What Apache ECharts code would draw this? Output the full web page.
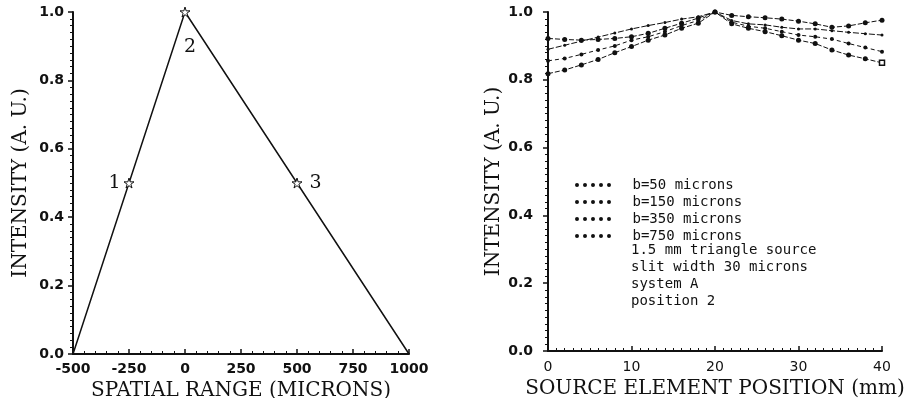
<!DOCTYPE html>
<html>
<head>
<meta charset="utf-8">
<script src="https://cdn.jsdelivr.net/npm/echarts@6/dist/echarts.min.js"></script>
<style>html,body{margin:0;padding:0;background:#fff}#c{width:915px;height:398px}</style>
</head>
<body>
<div id="c"></div>
<script>
// ---- Left panel data ----
const leftX = [-500, -250, 0, 500, 1000];
const leftY = [0.0, 0.5, 1.0, 0.5, 0.0];
const leftPointLabels = ['', '1', '2', '3', ''];
const leftStarShown = [false, true, true, true, false];

// ---- Right panel data ----
const rightX = [0, 2, 4, 6, 8, 10, 12, 14, 16, 18, 20, 22, 24, 26, 28, 30, 32, 34, 36, 38, 40];
const b50  = [0.922, 0.919, 0.917, 0.919, 0.922, 0.927, 0.937, 0.952, 0.967, 0.982, 1.000, 0.990, 0.986, 0.983, 0.979, 0.973, 0.965, 0.955, 0.959, 0.968, 0.976];
const b150 = [0.818, 0.829, 0.844, 0.860, 0.880, 0.898, 0.917, 0.932, 0.952, 0.967, 1.000, 0.965, 0.952, 0.942, 0.930, 0.917, 0.907, 0.888, 0.873, 0.862, 0.850];
const b350 = [0.856, 0.863, 0.875, 0.888, 0.900, 0.917, 0.927, 0.942, 0.960, 0.975, 1.000, 0.970, 0.958, 0.952, 0.942, 0.932, 0.927, 0.920, 0.907, 0.895, 0.883];
const b750 = [0.890, 0.902, 0.914, 0.926, 0.938, 0.950, 0.960, 0.969, 0.979, 0.986, 1.000, 0.975, 0.965, 0.962, 0.955, 0.950, 0.950, 0.945, 0.940, 0.936, 0.932];
const seriesNames = ['b=50 microns', 'b=150 microns', 'b=350 microns', 'b=750 microns'];
const noteLines = ['1.5 mm triangle source', 'slit width 30 microns', 'system A', 'position 2'];

const STAR = 'path://M50,0 L61,35 L98,35 L68,57 L79,91 L50,70 L21,91 L32,57 L2,35 L39,35 Z';
const DOTS = 'path://M0,2a2,2 0 1,0 4,0a2,2 0 1,0 -4,0M8,2a2,2 0 1,0 4,0a2,2 0 1,0 -4,0M16,2a2,2 0 1,0 4,0a2,2 0 1,0 -4,0M24,2a2,2 0 1,0 4,0a2,2 0 1,0 -4,0M32,2a2,2 0 1,0 4,0a2,2 0 1,0 -4,0';

const tickFont = {fontFamily: 'DejaVu Sans', fontWeight: 'bold', fontSize: 14, color: '#111'};
const titleFont = {fontFamily: 'DejaVu Serif', fontSize: 20, color: '#111'};

function yAxisCfg(gridIndex, labelMargin, nameGap) {
  return {
    type: 'value', gridIndex, min: 0, max: 1, interval: 0.2,
    axisLine: {show: true, onZero: false, lineStyle: {color: '#111', width: 2}},
    axisTick: {show: true, inside: false, length: 5, lineStyle: {color: '#111', width: 1.5}},
    minorTick: {show: true, splitNumber: 10, length: 3, lineStyle: {color: '#111', width: 1}},
    splitLine: {show: false},
    axisLabel: Object.assign({formatter: v => v.toFixed(1), margin: labelMargin}, tickFont),
    name: 'INTENSITY (A. U.)', nameLocation: 'middle', nameGap: nameGap,
    nameTextStyle: titleFont
  };
}

const chart = echarts.init(document.getElementById('c'));
const rightData = [b50, b150, b350, b750];
const rightStyles = [
  {size: 5, symbol: 'circle', dash: [5, 2]},
  {size: 5, symbol: 'circle', dash: [5, 2]},
  {size: 4, symbol: 'circle', dash: [4, 3]},
  {size: 3, symbol: 'circle', dash: [6, 2]}
];

const series = [{
  type: 'line', xAxisIndex: 0, yAxisIndex: 0,
  data: leftX.map((x, i) => ({
    value: [x, leftY[i]],
    symbol: leftStarShown[i] ? STAR : 'none',
    label: {show: leftPointLabels[i] !== '',
            position: i === 1 ? 'left' : (i === 2 ? 'bottom' : 'right'),
            distance: i === 2 ? 20 : (i === 3 ? 7 : 3),
            offset: i === 2 ? [5, 0] : [0, 0],
            formatter: leftPointLabels[i]}
  })),
  symbolSize: 10,
  lineStyle: {color: '#111', width: 1.5},
  itemStyle: {color: '#fff', borderColor: '#111', borderWidth: 1},
  label: {fontFamily: 'DejaVu Serif', fontSize: 19, color: '#111'},
  z: 3
}];
rightData.forEach((arr, k) => {
  const st = rightStyles[k];
  series.push({
    name: seriesNames[k], type: 'line', xAxisIndex: 1, yAxisIndex: 1,
    data: rightX.map((x, i) => {
      const item = {value: [x, arr[i]]};
      if (k === 1 && i === rightX.length - 1) {
        item.symbol = 'rect';
        item.itemStyle = {color: '#fff', borderColor: '#111', borderWidth: 1.5};
      }
      return item;
    }),
    symbol: st.symbol, symbolSize: st.size,
    lineStyle: {color: '#111', width: 1, type: st.dash},
    itemStyle: {color: '#111'}
  });
});

chart.setOption({
  animation: false,
  backgroundColor: '#fff',
  grid: [
    {left: 73, top: 12, width: 336, height: 342, containLabel: false, outerBoundsMode: 'none'},
    {left: 548, top: 12, width: 334, height: 339, containLabel: false, outerBoundsMode: 'none'}
  ],
  xAxis: [
    {type: 'value', gridIndex: 0, min: -500, max: 1000, interval: 250,
     axisLine: {show: true, onZero: false, lineStyle: {color: '#111', width: 2}},
     axisTick: {show: true, inside: true, length: 5, lineStyle: {color: '#111', width: 1.5}},
     minorTick: {show: true, splitNumber: 5, length: 3, lineStyle: {color: '#111'}},
     splitLine: {show: false},
     axisLabel: Object.assign({margin: 8, formatter: v => String(v)}, tickFont),
     name: 'SPATIAL RANGE (MICRONS)', nameLocation: 'middle', nameGap: 26,
     nameTextStyle: titleFont},
    {type: 'value', gridIndex: 1, min: 0, max: 40, interval: 10,
     axisLine: {show: true, onZero: false, lineStyle: {color: '#111', width: 2}},
     axisTick: {show: true, inside: true, length: 5, lineStyle: {color: '#111', width: 1.5}},
     minorTick: {show: true, splitNumber: 10, length: 3, lineStyle: {color: '#111'}},
     splitLine: {show: false},
     axisLabel: Object.assign({}, tickFont, {fontWeight: 'normal', margin: 9, formatter: v => String(v)}),
     name: 'SOURCE ELEMENT POSITION (mm)', nameLocation: 'middle', nameGap: 27,
     nameTextStyle: titleFont}
  ],
  yAxis: [yAxisCfg(0, 9, 42), yAxisCfg(1, 15, 44)],
  legend: {
    data: seriesNames, orient: 'vertical', left: 570, top: 173,
    itemWidth: 37, itemHeight: 4, itemGap: 3, icon: DOTS,
    textStyle: {fontFamily: 'DejaVu Sans Mono', fontSize: 14, lineHeight: 14, color: '#111', padding: [0, 0, 0, 16]}
  },
  graphic: [{
    type: 'text', left: 631, top: 242,
    style: {text: noteLines.join('\n'), fontFamily: 'DejaVu Sans Mono', fontSize: 14, lineHeight: 17, fill: '#111'}
  }],
  series
});
</script>
</body>
</html>
